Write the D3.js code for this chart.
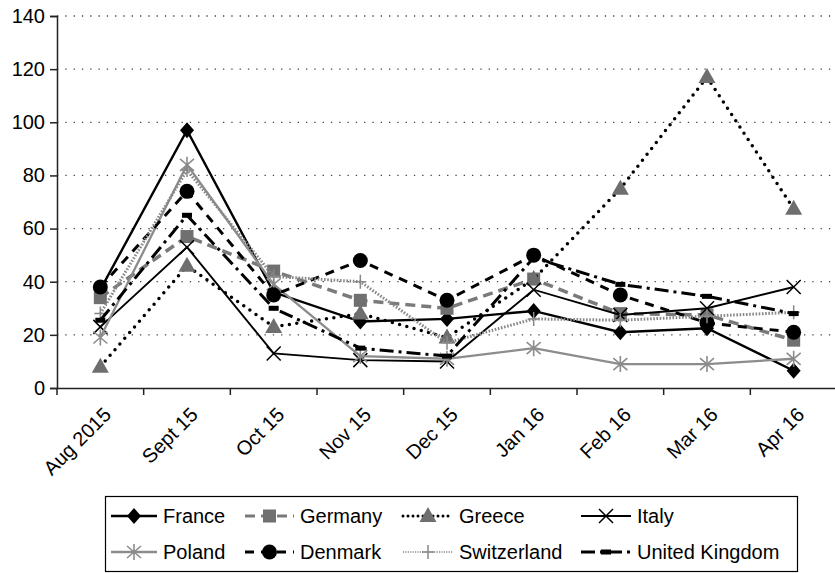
<!DOCTYPE html>
<html>
<head lang="en">
    <meta charset="UTF-8">
    <title>chart</title>
    <style>
        body { margin: 0; background: #fff; }
        text { font-family: "Liberation Sans", Arial, sans-serif; }
    </style>
</head>
<body>
<div id="graph"></div>

<script src="https://cdn.jsdelivr.net/npm/d3@7"></script>
<script>
    // months on the x axis
    var months = ["Aug 2015", "Sept 15", "Oct 15", "Nov 15", "Dec 15", "Jan 16", "Feb 16", "Mar 16", "Apr 16"];
    var yTicks = [0, 20, 40, 60, 80, 100, 120, 140];

    // values per country
    var france      = [37, 97, 36, 25, 26, 29, 21, 22.5, 6.5];
    var germany     = [34, 57, 44, 33, 30, 41, 28, 27.5, 18];
    var greece      = [8, 46, 23, 28, 19, 41, 75, 117, 67.5];
    var italy       = [23, 53, 13, 10.5, 10, 37, 27.5, 30, 38];
    var poland      = [19, 84, 39, 12, 11, 15, 9, 9, 11];
    var denmark     = [38, 74, 35, 48, 33, 50, 35, 24.5, 21];
    var switzerland = [28, 82, 42, 40, 17, 26, 25.5, 27, 28.5];
    var uk          = [25.5, 65, 30, 15, 12, 49, 39, 34.5, 28];

    var seriesNames = ["France", "Germany", "Greece", "Italy", "Poland", "Denmark", "Switzerland", "United Kingdom"];
    var seriesValues = [france, germany, greece, italy, poland, denmark, switzerland, uk];

    // line / marker look for each series
    var styles = [
        {stroke: "#000", width: 2.4, dash: null, cap: "butt", marker: "diamond"},
        {stroke: "#7a7a7a", width: 3.5, dash: "10,6", cap: "butt", marker: "square"},
        {stroke: "#000", width: 3.5, dash: "0,7.5", cap: "round", marker: "triangle"},
        {stroke: "#000", width: 1.9, dash: null, cap: "butt", marker: "x"},
        {stroke: "#8c8c8c", width: 2.3, dash: null, cap: "butt", marker: "asterisk"},
        {stroke: "#000", width: 3, dash: "9,7", cap: "butt", marker: "circle"},
        {stroke: "#888", width: 3, dash: "1.6,1.6", cap: "butt", marker: "plus"},
        {stroke: "#000", width: 3, dash: "14,5,3,5", cap: "butt", marker: "dash"}
    ];

    var W = 835, H = 573;
    var svg = d3.select("#graph").append("svg")
        .attr("width", W).attr("height", H);

    var x = d3.scaleBand().domain(months).range([57, 837]);
    var y = d3.scaleLinear().domain([0, 140]).range([388, 16]);
    var cx = function(i){ return x(months[i]) + x.bandwidth() / 2; };

    // gridlines (dotted)
    svg.append("g").selectAll("line")
        .data(yTicks.filter(function(t){ return t > 0; }))
        .enter().append("line")
        .attr("x1", 57).attr("x2", 837)
        .attr("y1", function(d){ return y(d); })
        .attr("y2", function(d){ return y(d); })
        .attr("stroke", "#444").attr("stroke-width", 1.3)
        .attr("stroke-dasharray", "1.3,7");

    // y axis
    var yAxis = svg.append("g")
        .attr("transform", "translate(57,0)")
        .call(d3.axisLeft(y).tickValues(yTicks).tickSize(7).tickPadding(5));
    yAxis.selectAll("text").style("font-size", "20px").attr("fill", "#000");
    yAxis.selectAll("line, path").attr("stroke", "#222").attr("stroke-width", 1.5);

    // x axis, ticks between the months
    var xAxis = svg.append("g")
        .attr("transform", "translate(0,388)")
        .call(d3.axisBottom(x).tickSize(0).tickSizeOuter(0).tickFormat(""));
    xAxis.select("path").attr("stroke", "#222").attr("stroke-width", 1.5);
    xAxis.selectAll(".tick").remove();
    xAxis.selectAll("line.sep")
        .data(months.map(function(m, i){ return i; }))
        .enter().append("line").attr("class", "sep")
        .attr("x1", function(i){ return x(months[i]); })
        .attr("x2", function(i){ return x(months[i]); })
        .attr("y1", 0).attr("y2", 7)
        .attr("stroke", "#222").attr("stroke-width", 1.5);
    xAxis.selectAll("text.lbl")
        .data(months)
        .enter().append("text").attr("class", "lbl")
        .attr("text-anchor", "end")
        .attr("fill", "#000")
        .attr("transform", function(d, i){ return "translate(" + (cx(i) + 12) + ",28) rotate(-45)"; })
        .style("font-size", "20px")
        .text(function(d){ return d; });

    // marker shapes
    function drawMarker(g, type){
        if (type == "diamond") {
            g.append("path").attr("d", "M0,-8L7,0L0,8L-7,0Z").attr("fill", "#000");
        } else if (type == "square") {
            g.append("rect").attr("x", -6.5).attr("y", -6.5).attr("width", 13).attr("height", 13).attr("fill", "#707070");
        } else if (type == "triangle") {
            g.append("path").attr("d", "M0,-9L8.5,6L-8.5,6Z").attr("fill", "#6e6e6e");
        } else if (type == "circle") {
            g.append("circle").attr("r", 7.5).attr("fill", "#000");
        } else if (type == "x") {
            g.append("path").attr("d", "M-7,-7L7,7M-7,7L7,-7").attr("stroke", "#000").attr("stroke-width", 1.5);
        } else if (type == "asterisk") {
            g.append("path").attr("d", "M-7,-6L7,6M-7,6L7,-6M0,-8L0,8").attr("stroke", "#8c8c8c").attr("stroke-width", 1.6);
        } else if (type == "plus") {
            g.append("path").attr("d", "M-6,0L6,0M0,-7L0,7").attr("stroke", "#888").attr("stroke-width", 1.5);
        } else if (type == "dash") {
            g.append("rect").attr("x", -5).attr("y", -2.5).attr("width", 10).attr("height", 5).attr("fill", "#000");
        }
    }

    var line = d3.line()
        .x(function(d, i){ return cx(i); })
        .y(function(d){ return y(d); });

    // series: line then markers
    seriesValues.forEach(function(vals, s){
        var st = styles[s];
        var g = svg.append("g");
        g.append("path").datum(vals)
            .attr("d", line)
            .attr("fill", "none")
            .attr("stroke", st.stroke)
            .attr("stroke-width", st.width)
            .attr("stroke-linecap", st.cap)
            .attr("stroke-dasharray", st.dash);
        vals.forEach(function(v, i){
            var m = g.append("g").attr("transform", "translate(" + cx(i) + "," + y(v) + ")");
            drawMarker(m, st.marker);
        });
    });

    // legend
    var lg = svg.append("g");
    lg.append("rect")
        .attr("x", 105.5).attr("y", 496.5).attr("width", 692).attr("height", 75)
        .attr("fill", "#fff").attr("stroke", "#000").attr("stroke-width", 1.2);
    var colSym = [111, 245, 403, 581];
    var colTxt = [163, 300, 459, 637];
    var rowY = [516, 552];
    seriesNames.forEach(function(name, s){
        var st = styles[s];
        var col = s % 4, row = Math.floor(s / 4);
        var x0 = colSym[col], x1 = colTxt[col] - 6, yy = rowY[row];
        var dash = st.dash;
        if (st.marker == "triangle") dash = "0,5";
        if (st.marker == "plus") dash = "1.2,1.2";
        lg.append("line")
            .attr("x1", x0).attr("x2", x1).attr("y1", yy).attr("y2", yy)
            .attr("stroke", st.stroke)
            .attr("stroke-width", st.marker == "plus" ? 1.5 : Math.min(st.width, 3))
            .attr("stroke-linecap", st.cap)
            .attr("stroke-dasharray", dash);
        var m = lg.append("g").attr("transform", "translate(" + ((x0 + x1) / 2) + "," + yy + ")");
        drawMarker(m, st.marker);
        lg.append("text")
            .attr("x", colTxt[col]).attr("y", yy + 7)
            .style("font-size", "20px")
            .text(name);
    });
</script>
</body>
</html>
